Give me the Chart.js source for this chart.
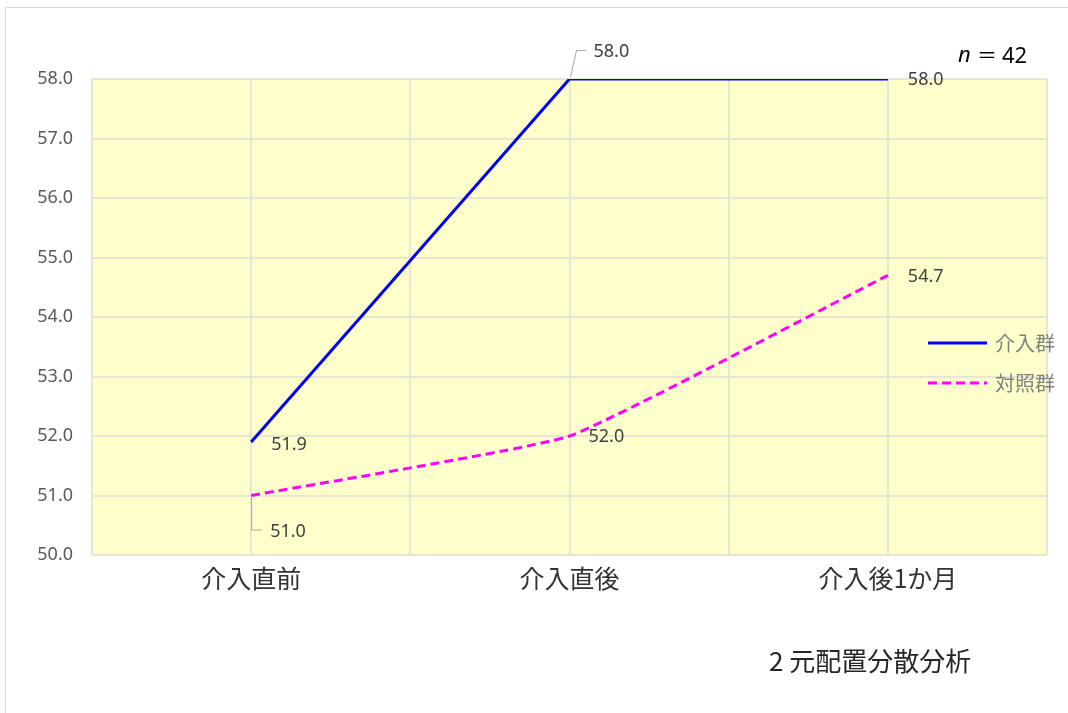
<!DOCTYPE html>
<html>
<head>
<meta charset="utf-8">
<script src="https://cdn.jsdelivr.net/npm/chart.js@4/dist/chart.umd.min.js"></script>
<style>
  html, body { margin: 0; padding: 0; background: #fff; }
  #wrap { position: absolute; left: 0; top: 0; width: 1068px; height: 713px; }
  #frame { position: absolute; left: 5px; top: 7px; right: 0; bottom: 0;
           border-top: 1px solid #d9d9d9; border-left: 1px solid #d9d9d9; }
</style>
</head>
<body>
<div id="wrap">
  <div id="frame"></div>
  <canvas id="chart" width="1068" height="713"></canvas>
</div>
<script>
// 測定時点
const categories = ['介入直前', '介入直後', '介入後1か月'];
// 各群の平均値
const interventionGroup = [51.9, 58.0, 58.0];
const controlGroup = [51.0, 52.0, 54.7];
// 縦軸目盛
const yTicks = [50, 51, 52, 53, 54, 55, 56, 57, 58];

const numFont = '"Noto Sans", "Open Sans", sans-serif';
const jpFont = '"Noto Sans CJK JP", sans-serif';

// ラベル位置（点からのずれ）と引き出し線
const labelOffsets = [
  [{ dx: 20, dy: 3, lead: null }, { dx: 24, dy: -27, lead: 'up' }, { dx: 20, dy: 1, lead: null }],
  [{ dx: 19, dy: 36, lead: 'down' }, { dx: 19, dy: 1, lead: null }, { dx: 20, dy: 2, lead: null }]
];

const plotBackground = {
  id: 'plotBackground',
  beforeDraw(chart) {
    const { ctx, chartArea: a } = chart;
    ctx.save();
    ctx.fillStyle = '#FFFFCC';
    ctx.fillRect(a.left, a.top, a.right - a.left, a.bottom - a.top);
    ctx.restore();
  }
};

const valueLabels = {
  id: 'valueLabels',
  afterDatasetsDraw(chart) {
    const { ctx } = chart;
    ctx.save();
    chart.data.datasets.forEach((ds, di) => {
      chart.getDatasetMeta(di).data.forEach((pt, i) => {
        const o = labelOffsets[di][i];
        const tx = pt.x + o.dx, ty = pt.y + o.dy;
        if (o.lead) {
          ctx.strokeStyle = '#a6a6a6';
          ctx.lineWidth = 1;
          ctx.beginPath();
          if (o.lead === 'down') {
            ctx.moveTo(pt.x + 0.5, pt.y + 2);
            ctx.lineTo(pt.x + 0.5, ty - 1.5);
            ctx.lineTo(tx - 8, ty - 1.5);
          } else {
            ctx.moveTo(pt.x + 1, pt.y - 2);
            ctx.lineTo(pt.x + 7, ty - 1.5);
            ctx.lineTo(tx - 7, ty - 1.5);
          }
          ctx.stroke();
        }
        ctx.fillStyle = '#404040';
        ctx.font = '18px ' + numFont;
        ctx.textAlign = 'left';
        ctx.textBaseline = 'middle';
        ctx.fillText(ds.data[i].y.toFixed(1), tx, ty);
      });
    });
    ctx.restore();
  }
};

const sideLegend = {
  id: 'sideLegend',
  afterDraw(chart) {
    const { ctx } = chart;
    ctx.save();
    chart.data.datasets.forEach((ds, di) => {
      const y = 343 + di * 40;
      ctx.strokeStyle = ds.borderColor;
      ctx.lineWidth = 3;
      ctx.setLineDash(ds.borderDash || []);
      ctx.beginPath();
      ctx.moveTo(928, y);
      ctx.lineTo(987, y);
      ctx.stroke();
      ctx.setLineDash([]);
      ctx.fillStyle = '#808080';
      ctx.font = '20px ' + jpFont;
      ctx.textAlign = 'left';
      ctx.textBaseline = 'middle';
      ctx.fillText(ds.label, 995, y);
    });

    // 標本数
    ctx.fillStyle = '#000';
    ctx.textBaseline = 'middle';
    ctx.textAlign = 'left';
    ctx.font = 'italic 22px ' + numFont;
    ctx.fillText('n', 958, 56);
    ctx.font = '20px ' + jpFont;
    ctx.fillText('＝', 977, 55);
    ctx.font = '22px ' + numFont;
    ctx.fillText('42', 1002, 57);

    // 分析手法
    ctx.fillStyle = '#262626';
    ctx.font = '26px ' + jpFont;
    ctx.fillText('2 元配置分散分析', 769, 661);
    ctx.restore();
  }
};

new Chart(document.getElementById('chart'), {
  type: 'line',
  data: {
    datasets: [
      {
        label: '介入群',
        data: interventionGroup.map((v, i) => ({ x: i, y: v })),
        borderColor: '#0000FF',
        borderWidth: 3,
        pointRadius: 0,
        tension: 0
      },
      {
        label: '対照群',
        data: controlGroup.map((v, i) => ({ x: i, y: v })),
        borderColor: '#FF00FF',
        borderWidth: 3,
        borderDash: [9, 5],
        pointRadius: 0,
        tension: 0.12
      }
    ]
  },
  options: {
    responsive: false,
    animation: false,
    layout: { padding: { left: 0, top: 79, right: 21, bottom: 0 } },
    plugins: { legend: { display: false }, tooltip: { enabled: false } },
    scales: {
      x: {
        type: 'linear',
        min: -0.5,
        max: categories.length - 0.5,
        afterFit: (s) => { s.height = 713 - 555; },
        afterBuildTicks: (s) => {
          const t = [];
          for (let v = -0.5; v <= categories.length - 0.5; v += 0.5) t.push({ value: v });
          s.ticks = t;
        },
        grid: { color: '#e8e6d2', lineWidth: 2, drawTicks: false },
        border: { display: false },
        ticks: {
          autoSkip: false,
          maxRotation: 0,
          padding: 8,
          color: '#333333',
          font: { family: jpFont, size: 25 },
          callback: (v) => Number.isInteger(v) ? categories[v] : ''
        }
      },
      y: {
        min: yTicks[0],
        max: yTicks[yTicks.length - 1],
        afterFit: (s) => { s.width = 92; },
        afterBuildTicks: (s) => { s.ticks = yTicks.map(v => ({ value: v })); },
        grid: { color: '#e8e6d2', lineWidth: 2, drawTicks: false },
        border: { display: false },
        ticks: {
          padding: 19,
          color: '#595959',
          font: { family: numFont, size: 18 },
          callback: (v) => v.toFixed(1)
        }
      }
    }
  },
  plugins: [plotBackground, valueLabels, sideLegend]
});
</script>
</body>
</html>
